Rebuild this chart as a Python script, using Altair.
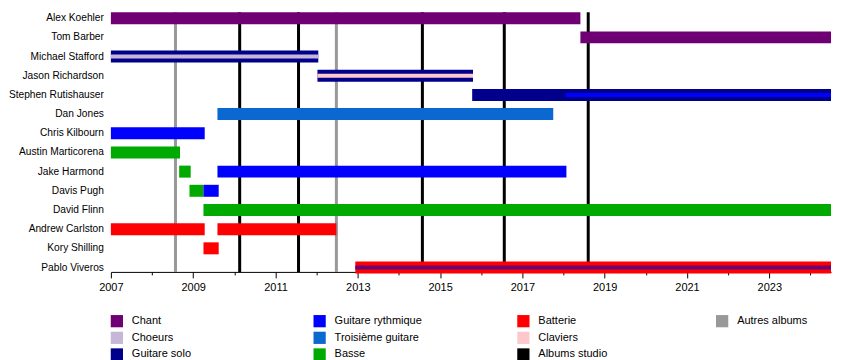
import altair as alt
import pandas as pd

# ---------------- data ----------------
names = ["Alex Koehler", "Tom Barber", "Michael Stafford", "Jason Richardson",
         "Stephen Rutishauser", "Dan Jones", "Chris Kilbourn", "Austin Marticorena",
         "Jake Harmond", "Davis Pugh", "David Flinn", "Andrew Carlston",
         "Kory Shilling", "Pablo Viveros"]

roles = ["Chant", "Choeurs", "Guitare solo", "Guitare rythmique", "Troisième guitare",
         "Basse", "Batterie", "Claviers", "Albums studio", "Autres albums"]
role_colors = ["#6f0073", "#c8b6d8", "#00008c", "#0000ff", "#0a68d0",
               "#00aa00", "#ff0000", "#fcc8cc", "#000000", "#999999"]

bar_member = ["Alex Koehler", "Tom Barber", "Michael Stafford", "Jason Richardson",
              "Stephen Rutishauser", "Dan Jones", "Chris Kilbourn", "Austin Marticorena",
              "Jake Harmond", "Jake Harmond", "Davis Pugh", "Davis Pugh", "David Flinn",
              "Andrew Carlston", "Andrew Carlston", "Kory Shilling", "Pablo Viveros"]
bar_role = ["Chant", "Chant", "Guitare solo", "Guitare solo",
            "Guitare solo", "Troisième guitare", "Guitare rythmique", "Basse",
            "Basse", "Guitare rythmique", "Basse", "Guitare rythmique", "Basse",
            "Batterie", "Batterie", "Batterie", "Batterie"]
bar_start = [2007.0, 2018.41, 2007.0, 2012.02,
             2015.78, 2009.59, 2007.0, 2007.0,
             2008.66, 2009.59, 2008.91, 2009.25, 2009.25,
             2007.0, 2009.59, 2009.25, 2012.94]
bar_end = [2018.41, 2024.5, 2012.04, 2015.80,
           2024.5, 2017.75, 2009.28, 2008.68,
           2008.94, 2018.07, 2009.25, 2009.62, 2024.5,
           2009.28, 2012.48, 2009.62, 2024.5]

stripe_member = ["Michael Stafford", "Jason Richardson", "Stephen Rutishauser", "Pablo Viveros"]
stripe_role = ["Choeurs", "Claviers", "Guitare rythmique", "Chant"]
stripe_start = [2007.0, 2012.02, 2018.05, 2012.94]
stripe_end = [2012.04, 2015.80, 2024.5, 2024.5]

album_year = [2008.57, 2010.13, 2011.56, 2012.48, 2014.57, 2016.56, 2018.60]
album_kind = ["Autres albums", "Albums studio", "Albums studio", "Autres albums",
              "Albums studio", "Albums studio", "Albums studio"]

year_ticks = list(range(2007, 2025))
x_domain = [2007, 2024.5]

legend_col = [0, 0, 0, 1, 1, 1, 2, 2, 2, 3]
legend_row = [0, 1, 2, 0, 1, 2, 0, 1, 2, 0]

# ---------------- tables ----------------
row_of = {n: i for i, n in enumerate(names)}
bars = pd.DataFrame({"member": bar_member, "role": bar_role, "start": bar_start, "end": bar_end})
bars["row"] = bars["member"].map(row_of)
stripes = pd.DataFrame({"member": stripe_member, "role": stripe_role,
                        "start": stripe_start, "end": stripe_end})
stripes["row"] = stripes["member"].map(row_of)
albums = pd.DataFrame({"year": album_year, "kind": album_kind})
people = pd.DataFrame({"name": names, "row": list(range(len(names)))})
legend_df = pd.DataFrame({"role": roles, "col": legend_col, "row": legend_row})

FONT = "Liberation Sans"
W, H = 721, 260

cscale = alt.Scale(domain=roles, range=role_colors)
xscale = alt.Scale(domain=x_domain, nice=False, zero=False)
yscale = alt.Scale(domain=[-0.3125, 13.229], reverse=True, nice=False, zero=False)

xaxis = alt.Axis(values=year_ticks, format="d", title=None, grid=False,
                 labelExpr="datum.value % 2 == 1 ? datum.label : ''",
                 tickSize={"condition": {"test": "datum.value % 2 == 1", "value": 6}, "value": 3},
                 domainColor="black", tickColor="black", domainWidth=1, tickWidth=1,
                 labelFont=FONT, labelFontSize=11, labelColor="black",
                 labelPadding=4, labelFlush=False)

album_layer = alt.Chart(albums).mark_rule(strokeWidth=3).encode(
    x=alt.X("year:Q", scale=xscale, axis=xaxis),
    color=alt.Color("kind:N", scale=cscale, legend=None),
)

bar_layer = alt.Chart(bars).mark_rule(strokeWidth=12, strokeCap="butt").encode(
    x=alt.X("start:Q", scale=xscale, axis=xaxis),
    x2="end:Q",
    y=alt.Y("row:Q", scale=yscale, axis=None),
    color=alt.Color("role:N", scale=cscale, legend=None),
)

stripe_layer = alt.Chart(stripes).mark_rule(strokeWidth=4, strokeCap="butt").encode(
    x=alt.X("start:Q", scale=xscale, axis=xaxis),
    x2="end:Q",
    y=alt.Y("row:Q", scale=yscale, axis=None),
    color=alt.Color("role:N", scale=cscale, legend=None),
)

name_layer = alt.Chart(people).mark_text(
    align="right", baseline="middle", dx=-7, font=FONT, fontSize=10.2, color="black"
).encode(
    x=alt.value(0),
    y=alt.Y("row:Q", scale=yscale, axis=None),
    text="name:N",
)

timeline = alt.layer(album_layer, bar_layer, stripe_layer, name_layer).properties(width=W, height=H)

lx = alt.Scale(type="linear", domain=[0, 1, 2, 3], range=[6, 209, 413, 612],
               nice=False, zero=False)
ly = alt.Scale(domain=[-0.5, 2.5], reverse=True, nice=False, zero=False)

legend_sq = alt.Chart(legend_df).mark_square(size=150, opacity=1, filled=True).encode(
    x=alt.X("col:Q", scale=lx, axis=None),
    y=alt.Y("row:Q", scale=ly, axis=None),
    color=alt.Color("role:N", scale=cscale, legend=None),
)
legend_tx = alt.Chart(legend_df).mark_text(
    align="left", baseline="middle", dx=15, font=FONT, fontSize=11, color="black"
).encode(
    x=alt.X("col:Q", scale=lx, axis=None),
    y=alt.Y("row:Q", scale=ly, axis=None),
    text="role:N",
)
legend_chart = alt.layer(legend_sq, legend_tx).properties(width=W, height=50)

chart = alt.vconcat(timeline, legend_chart, spacing=41).properties(
    bounds="flush",
    padding={"left": 0, "top": 2, "right": 5, "bottom": 0},
).configure_view(stroke=None)

chart.save("out.html", embed_options={"renderer": "svg", "actions": False})
